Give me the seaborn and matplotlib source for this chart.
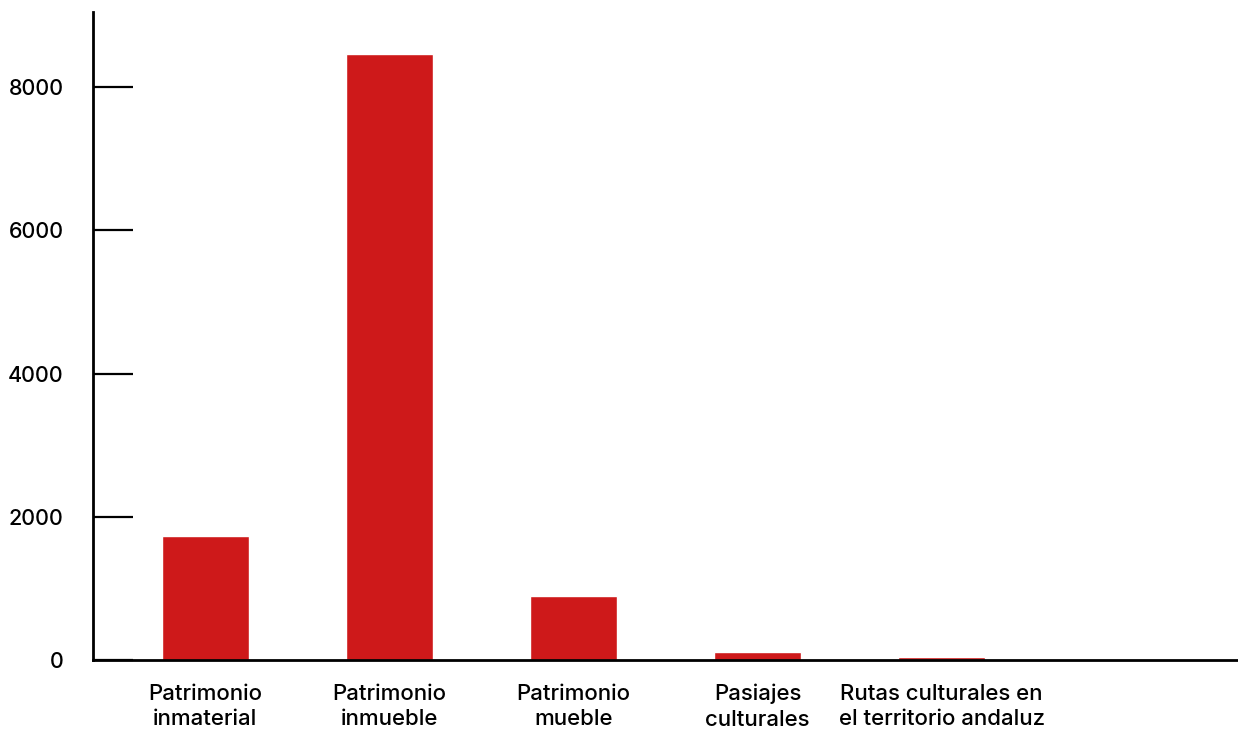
import matplotlib
matplotlib.use("Agg")
import matplotlib.pyplot as plt
import seaborn as sns
import pandas as pd

# Data
categories = [
    "Patrimonio\ninmaterial",
    "Patrimonio\ninmueble",
    "Patrimonio\nmueble",
    "Pasiajes\nculturales",
    "Rutas culturales en\nel territorio andaluz",
]
values = [1730, 8460, 895, 112, 40]
y_ticks = [0, 2000, 4000, 6000, 8000]

df = pd.DataFrame({"categoria": categories, "total": values})

sns.set_style("white")
plt.rcParams["font.family"] = ["Inter", "DejaVu Sans"]
plt.rcParams["font.weight"] = "medium"
plt.rcParams["text.color"] = "black"
plt.rcParams["xtick.color"] = "black"
plt.rcParams["ytick.color"] = "black"

fig = plt.figure(figsize=(12.38, 7.31), dpi=100)
ax = fig.add_axes([93 / 1238, 1 - 660 / 731, 1 - 93 / 1238, (660 - 12) / 731])

sns.barplot(data=df, x="categoria", y="total", color="#CE191A",
            saturation=1, width=0.47, ax=ax)

ax.set_xlim(-0.61, 5.61)
ax.set_ylim(0, 9050)
ax.set_yticks(y_ticks)
ax.set_yticklabels([str(t) for t in y_ticks])
ax.set_xlabel("")
ax.set_ylabel("")

for side in ["top", "right"]:
    ax.spines[side].set_visible(False)
for side in ["left", "bottom"]:
    ax.spines[side].set_linewidth(2)
    ax.spines[side].set_color("black")

ax.tick_params(axis="y", left=True, direction="in", length=29, width=1.6,
               color="black", labelcolor="black", pad=21, labelsize=15.5)
ax.tick_params(axis="x", bottom=False, length=0, pad=17, labelsize=16,
               labelcolor="black")
for lab in ax.get_xticklabels() + ax.get_yticklabels():
    lab.set_fontweight("medium")
for lab in ax.get_xticklabels():
    lab.set_linespacing(1.35)

fig.savefig("out.png", dpi=100)
